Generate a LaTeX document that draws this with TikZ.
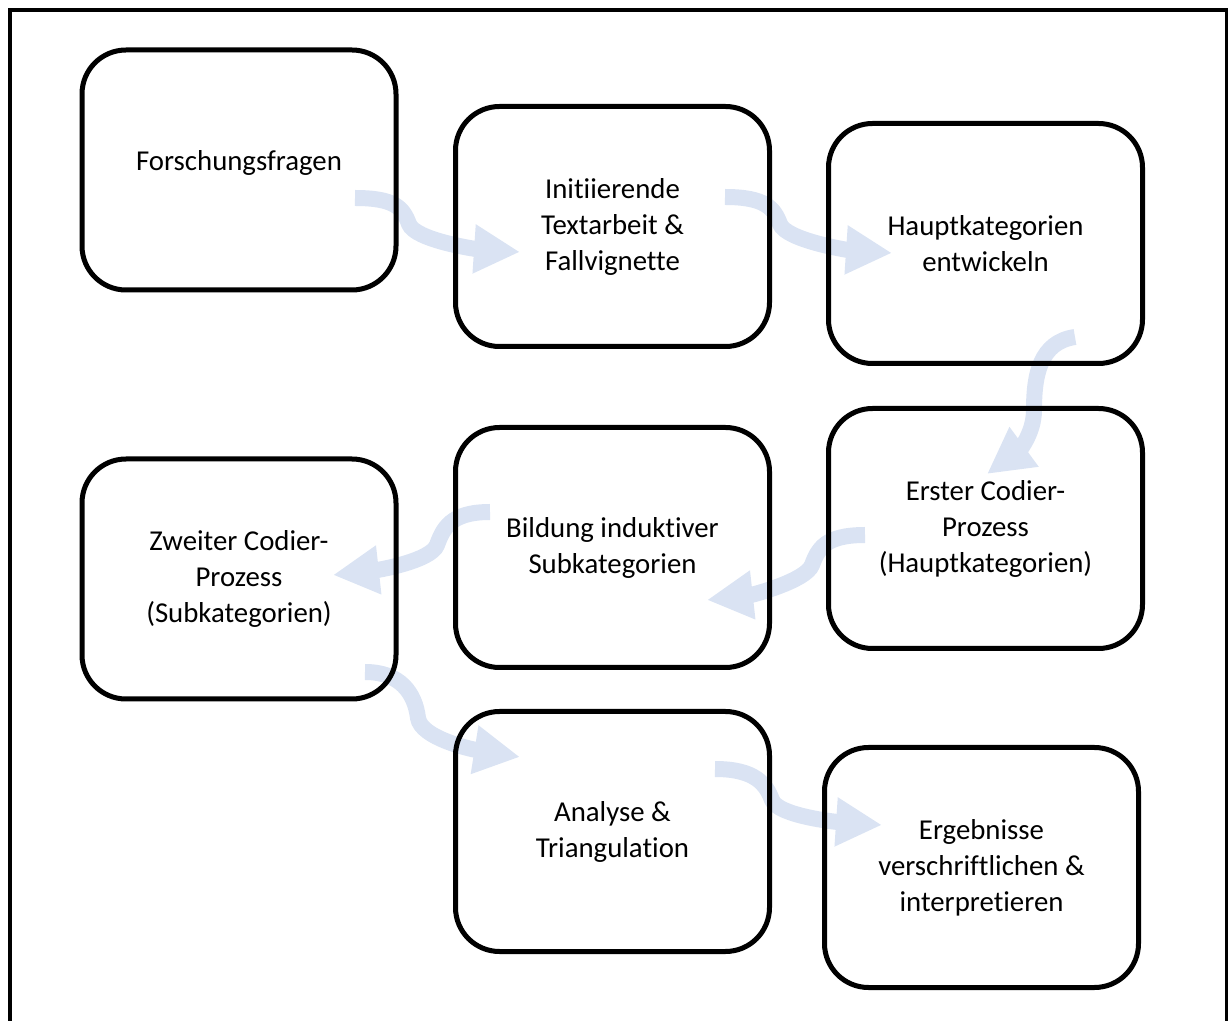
\documentclass[tikz,border=0pt]{standalone}
\usepackage{fontspec}
\setmainfont[Ligatures=NoCommon]{Carlito}
\usetikzlibrary{arrows.meta,backgrounds}

\definecolor{flowblue}{RGB}{218,227,243}
\def\boxRad{22pt}

\begin{document}
\begin{tikzpicture}[
    x=0.5pt, y=-0.5pt,
    phase/.style={shape=rectangle, draw, line width=2.5pt, rounded corners=\boxRad,
      minimum width=157pt, minimum height=120pt, align=center,
      font=\fontsize{14.4}{18}\selectfont},
    flow/.style={draw=flowblue, line width=8pt,
      -{Triangle[width=23pt, length=23pt]}},
  ]
  \useasboundingbox (0,0) rectangle (1228,1021);

  % Frame
  \draw[line width=2pt] (10,1021) |- (1226.5,10.5) -- (1226.5,1021);

  % Steps
  \node [phase, text depth=9.5pt] (fragen) at (239,170) {Forschungsfragen};
  \node [phase] (textarbeit) at (612.5,226.5) {Initiierende\\Textarbeit \&\\Fallvignette};
  \node [phase] (haupt) at (985.5,243.5) {Hauptkategorien\\entwickeln};
  \node [phase] (erster) at (985.5,528.5) {Erster Codier-\\Prozess\\(Hauptkategorien)};
  \node [phase] (bildung) at (612.5,547.5) {Bildung induktiver\\Subkategorien};
  \node [phase] (zweiter) at (239,579) {Zweiter Codier-\\Prozess\\(Subkategorien)};
  \node [phase] (analyse) at (612.5,831.5) {Analyse \&\\Triangulation};
  \node [phase] (ergebnisse) at (981.5,867.5) {Ergebnisse\\verschriftlichen \&\\interpretieren};

  % Arrows
  \begin{scope}[on background layer]
    \draw[flow] ([shift={(116,28)}]fragen.center)
      .. controls +(40,0) and +(-6,-16) .. +(54,26)
      .. controls +(6,16) and +(-45,-3) .. ([shift={(-92.5,25.5)}]textarbeit.center);
    \draw[flow] ([shift={(112.5,-29.5)}]textarbeit.center)
      .. controls +(40,0) and +(-6,-16) .. +(55,27)
      .. controls +(6,16) and +(-45,-3) .. ([shift={(-93.5,9.5)}]haupt.center);
    \draw[flow] ([shift={(89.5,93.5)}]haupt.center)
      .. controls +(-35,5) and +(0,-35) .. +(-41,73)
      .. controls +(0,25) and +(30,-22) .. ([shift={(1.5,-54.5)}]erster.center);
    \draw[flow] ([shift={(-120.5,6.5)}]erster.center)
      .. controls +(-40,0) and +(6,-16) .. +(-53,30)
      .. controls +(-6,16) and +(45,-5) .. ([shift={(94.5,52.5)}]bildung.center);
    \draw[flow] ([shift={(-122.5,-35.5)}]bildung.center)
      .. controls +(-40,0) and +(6,-16) .. +(-53,33)
      .. controls +(-6,16) and +(45,-5) .. ([shift={(94,-4)}]zweiter.center);
    \draw[flow] ([shift={(126,93)}]zweiter.center)
      .. controls +(35,0) and +(-3,-25) .. +(53,46)
      .. controls +(3,20) and +(-50,-8) .. ([shift={(-92.5,-74.5)}]analyse.center);
    \draw[flow] ([shift={(102.5,-62.5)}]analyse.center)
      .. controls +(40,0) and +(-6,-16) .. +(57,31)
      .. controls +(6,16) and +(-45,-3) .. ([shift={(-99.5,-42.5)}]ergebnisse.center);
  \end{scope}
\end{tikzpicture}
\end{document}
